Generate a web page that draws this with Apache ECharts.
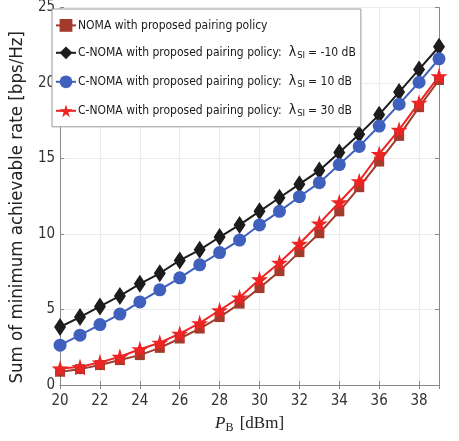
<!DOCTYPE html>
<html><head><meta charset="utf-8">
<script src="https://cdn.jsdelivr.net/npm/echarts@6/dist/echarts.min.js"></script>
<style>html,body{margin:0;padding:0;background:#fff}#c{width:459px;height:441px}</style>
</head><body><div id="c"></div>
<script>
const xValues = [20,21,22,23,24,25,26,27,28,29,30,31,32,33,34,35,36,37,38,39];
const nomaValues = [0.88,1.05,1.32,1.65,1.98,2.46,3.08,3.74,4.5,5.39,6.42,7.54,8.8,10.05,11.5,13.1,14.8,16.5,18.4,20.2];
const cnomaM10Values = [3.84,4.5,5.2,5.9,6.7,7.4,8.25,8.95,9.8,10.6,11.5,12.4,13.3,14.2,15.4,16.6,17.9,19.4,20.9,22.4];
const cnoma10Values = [2.64,3.3,4.0,4.7,5.5,6.3,7.1,7.96,8.77,9.6,10.6,11.5,12.47,13.4,14.6,15.8,17.15,18.6,20.05,21.6];
const cnoma30Values = [1.1,1.2,1.5,1.87,2.37,2.8,3.4,4.1,4.95,5.8,7.0,8.1,9.35,10.7,12.1,13.5,15.3,16.9,18.7,20.45];
const seriesNames = ['NOMA with proposed pairing policy','C-NOMA with proposed pairing policy: λSI = -10 dB','C-NOMA with proposed pairing policy: λSI = 10 dB','C-NOMA with proposed pairing policy: λSI = 30 dB'];
const lambdaLabels = ['', '= -10 dB', '= 10 dB', '= 30 dB'];

const FONT = "'Liberation Sans Narrow','DejaVu Sans Condensed','Arial Narrow',sans-serif";
const STAR = 'path://M50,0 L61,35 L98,35 L68,57 L79,91 L50,70 L21,91 L32,57 L2,35 L39,35 Z';
const pairs = v => xValues.map((x,i)=>[x,v[i]]);

const chart = echarts.init(document.getElementById('c'), null, {renderer:'canvas'});
function mk(name, data, color, symbol, size){
  return {name, type:'line', data:pairs(data), symbol, symbolSize:size, showAllSymbol:true,
    lineStyle:{color, width:2}, itemStyle:{color}, z: 3, animation:false};
}
const axisCommon = {
  axisLine:{show:true, lineStyle:{color:'#888', width:1}},
  axisTick:{show:true, inside:true, length:4, lineStyle:{color:'#888'}},
};
chart.setOption({
  animation:false,
  grid:{left:48, right:20, top:6, bottom:56},
  legend:{
    orient:'vertical', left:52, top:9, padding:[10,5,8,3], itemGap:14,
    backgroundColor:'#fff', borderColor:'#999', borderWidth:1,
    itemWidth:20, itemHeight:16,
    data: seriesNames,
    formatter: function(name){
      const i = seriesNames.indexOf(name);
      if(i===0) return '{a|NOMA with proposed pairing policy}';
      return '{a|C-NOMA with proposed pairing policy:}{g|}{l|λ}{s|SI}{b|'+lambdaLabels[i]+'}';
    },
    textStyle:{
      fontFamily:FONT, fontSize:12, color:'#1a1a1a', padding:[0,0,0,-3],
      rich:{
        a:{fontFamily:FONT, fontSize:12, color:'#1a1a1a'},
        g:{width:7},
        l:{fontFamily:FONT, fontSize:14, color:'#1a1a1a'},
        s:{fontFamily:FONT, fontSize:9.5, color:'#1a1a1a', verticalAlign:'bottom', padding:[6,3,0,1]},
        b:{fontFamily:FONT, fontSize:12, color:'#1a1a1a'}
      }
    }
  },
  xAxis:[{
    type:'value', min:20, max:39, interval:2,
    ...axisCommon,
    splitLine:{show:true, lineStyle:{color:'#ebebeb'}},
    axisLabel:{fontFamily:FONT, fontSize:15, color:'#333', margin:9, showMaxLabel:false},
    name:'{i|P}{sub|B}{n| [dBm]}', nameLocation:'middle', nameGap:29,
    nameTextStyle:{rich:{
      i:{fontFamily:"'Liberation Serif','DejaVu Serif',serif", fontStyle:'italic', fontSize:17, color:'#222'},
      sub:{fontFamily:"'Liberation Serif','DejaVu Serif',serif", fontSize:12, color:'#222', verticalAlign:'bottom', padding:[8,2,0,0]},
      n:{fontFamily:"'Liberation Serif','DejaVu Serif',serif", fontSize:17, color:'#222'}
    }}
  },{
    type:'value', min:20, max:39, interval:2, position:'top',
    ...axisCommon, axisLabel:{show:false}, splitLine:{show:false}
  }],
  yAxis:[{
    type:'value', min:0, max:25, interval:5,
    ...axisCommon,
    splitLine:{show:true, lineStyle:{color:'#ebebeb'}},
    axisLabel:{fontFamily:FONT, fontSize:15, color:'#333', margin:5},
    name:'Sum of minimum achievable rate [bps/Hz]', nameLocation:'middle', nameGap:29, nameRotate:90,
    nameTextStyle:{fontFamily:FONT, fontSize:18.5, color:'#222', padding:[0,22,0,0]}
  },{
    type:'value', min:0, max:25, interval:5, position:'right',
    ...axisCommon, axisLabel:{show:false}, splitLine:{show:false}
  }],
  series:[
    mk(seriesNames[0], nomaValues, '#a33a2c', 'rect', 10),
    mk(seriesNames[1], cnomaM10Values, '#1c1c1c', 'diamond', [12,18]),
    mk(seriesNames[2], cnoma10Values, '#4060bd', 'circle', 13),
    mk(seriesNames[3], cnoma30Values, '#ee2424', STAR, 17)
  ]
});
</script></body></html>
